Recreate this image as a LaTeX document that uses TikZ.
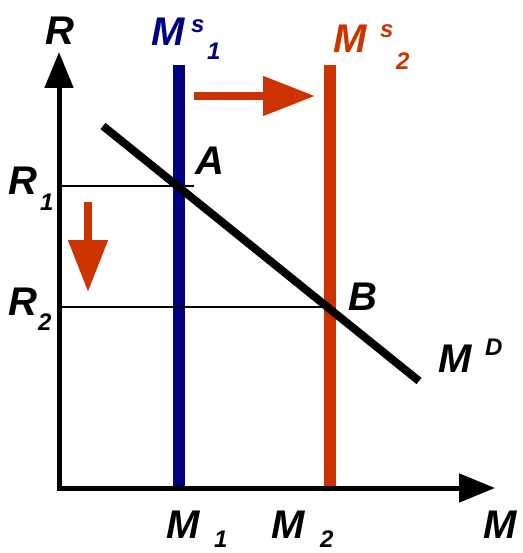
\documentclass[tikz,border=0pt]{standalone}
\usepackage{fontspec}
\setmainfont{Liberation Sans}
\usetikzlibrary{arrows.meta}
\definecolor{msblue}{HTML}{000080}
\definecolor{msorange}{HTML}{CC3300}
\tikzset{
  axis/.style={line width=5pt,line join=miter,
               {Triangle[length=36pt,width=28pt]}-{Triangle[length=36pt,width=28pt]}},
  supply/.style={line width=12pt},
  demand/.style={line width=8pt,draw=black},
  guide/.style={line width=1.3pt,draw=black},
  shiftarrow/.style={line width=8pt,draw=msorange,fill=msorange,
                     -{Triangle[length=52pt,width=38pt]}},
  lbl/.style={font=\fontsize{40}{40}\selectfont\bfseries\itshape,inner sep=0pt,anchor=base west},
  sublbl/.style={font=\fontsize{24}{24}\selectfont\bfseries\itshape,inner sep=0pt,anchor=base west},
}
\begin{document}
\begin{tikzpicture}[x=1pt,y=-1pt]
  \useasboundingbox (0,0) rectangle (522,553);
  % axes
  \coordinate (O) at (59,488);
  \coordinate (Rtop) at (59,52);
  \coordinate (Mend) at (495,488);
  % supply and demand
  \coordinate (S1top) at (179,65);  \coordinate (S1bot) at (179,488);
  \coordinate (S2top) at (330,65);  \coordinate (S2bot) at (330,488);
  \coordinate (Dtop) at (103,126);  \coordinate (Dbot) at (419,381);
  \coordinate (A) at (179,186);     \coordinate (B) at (330,307);

  \draw[supply,msblue] (S1top) -- (S1bot);
  \draw[supply,msorange] (S2top) -- (S2bot);
  \draw[demand] (Dtop) -- (Dbot);
  \draw[guide] (O |- A) -- ([xshift=15pt]A);
  \draw[guide] (O |- B) -- (B);
  \draw[axis] (Rtop) -- (O) -- (Mend);

  % shifts
  \coordinate (h1) at (194,96);  \coordinate (h2) at (315,96);
  \coordinate (v1) at (88,202);  \coordinate (v2) at (88,292);
  \draw[shiftarrow] (h1) -- (h2);
  \draw[shiftarrow] (v1) -- (v2);

  % labels
  \node[lbl] (lR) at (45,45) {R};
  \node[lbl] (lR1) at (8,195) {R};
  \node[sublbl] (lR1s) at (40,210) {1};
  \node[lbl] (lR2) at (8,315) {R};
  \node[sublbl] (lR2s) at (38,330) {2};
  \node[lbl,text=msblue] (lMs1) at (151,46) {M};
  \node[sublbl,text=msblue] (lMs1s) at (191,33) {s};
  \node[sublbl,text=msblue] (lMs1n) at (207,60) {1};
  \node[lbl,text=msorange] (lMs2) at (333,53) {M};
  \node[sublbl,text=msorange] (lMs2s) at (380,38) {s};
  \node[sublbl,text=msorange] (lMs2n) at (396,70) {2};
  \node[lbl] (lA) at (195,175) {A};
  \node[lbl] (lB) at (348,310) {B};
  \node[lbl] (lMD) at (438,372) {M};
  \node[sublbl] (lMDs) at (485,355) {D};
  \node[lbl] (lM1) at (166,538) {M};
  \node[sublbl] (lM1s) at (214,547) {1};
  \node[lbl] (lM2) at (271,538) {M};
  \node[sublbl] (lM2s) at (320,547) {2};
  \node[lbl] (lM) at (483,538) {M};
\end{tikzpicture}
\end{document}
